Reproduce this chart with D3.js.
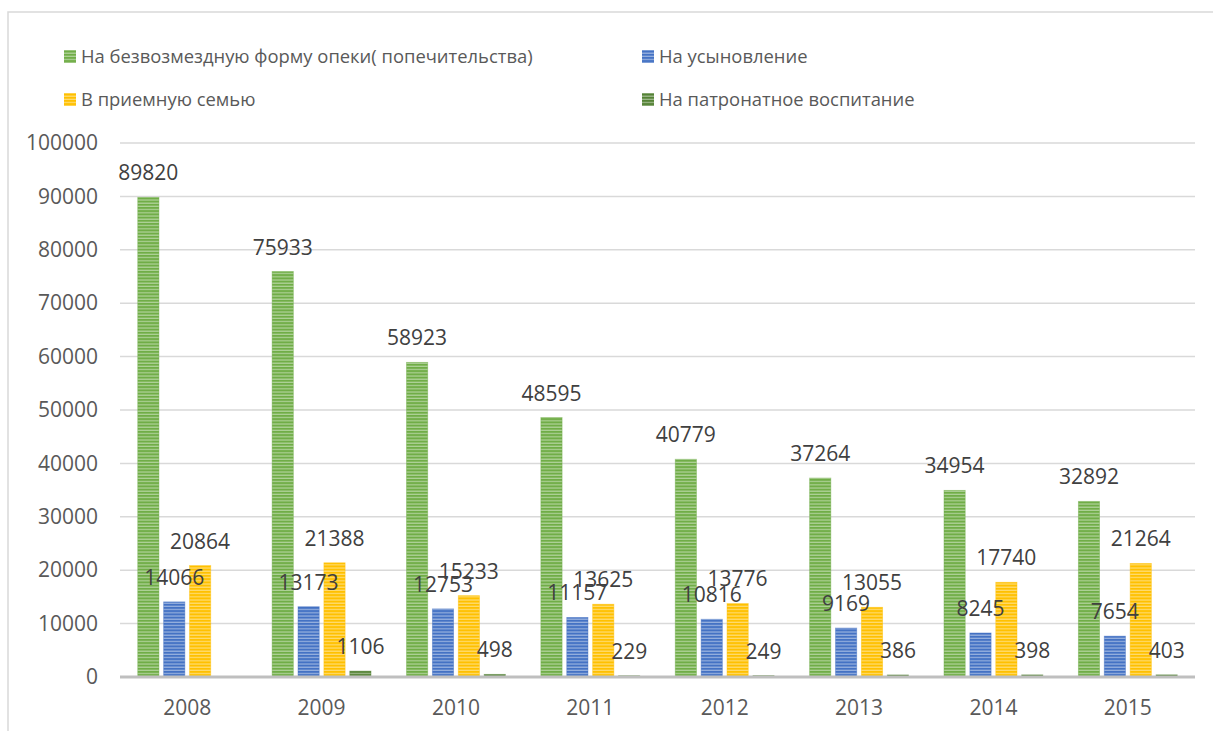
<!DOCTYPE html>
<html>
<head>
<meta charset="utf-8">
<script src="https://cdn.jsdelivr.net/npm/d3@7"></script>
<style>
  body { margin: 0; background: #fff; }
  text { font-family: "Open Sans", sans-serif; fill: #595959; }
</style>
</head>
<body>
<div id="canvas"></div>
<script>
// Данные
const years = ["2008", "2009", "2010", "2011", "2012", "2013", "2014", "2015"];
const seriesNames = [
  "На безвозмездную форму опеки( попечительства)",
  "На усыновление",
  "В приемную семью",
  "На патронатное воспитание"
];
const opeka = [89820, 75933, 58923, 48595, 40779, 37264, 34954, 32892];
const usynovlenie = [14066, 13173, 12753, 11157, 10816, 9169, 8245, 7654];
const priemnaya = [20864, 21388, 15233, 13625, 13776, 13055, 17740, 21264];
const patronat = [null, 1106, 498, 229, 249, 386, 398, 403];
const yTicks = [0, 10000, 20000, 30000, 40000, 50000, 60000, 70000, 80000, 90000, 100000];

const colors = ["#70ad47", "#4472c4", "#ffc000", "#548235"];
const allSeries = [opeka, usynovlenie, priemnaya, patronat];

const width = 1213, height = 731;
const margin = { top: 143, left: 120, right: 18, bottom: 54 };
const iwidth = width - margin.left - margin.right;
const iheight = height - margin.top - margin.bottom;

const svg = d3.select("#canvas").append("svg")
  .attr("width", width)
  .attr("height", height);

// полосатая заливка как в Excel
const defs = svg.append("defs");
colors.forEach((c, i) => {
  const p = defs.append("pattern")
    .attr("id", "stripe" + i)
    .attr("patternUnits", "userSpaceOnUse")
    .attr("width", 4)
    .attr("height", 3.2);
  p.append("rect").attr("width", 4).attr("height", 3.2).attr("fill", c);
  p.append("rect").attr("y", 2).attr("width", 4).attr("height", 1.2)
    .attr("fill", "#fff").attr("opacity", 0.45);
});

// рамка диаграммы
svg.append("rect")
  .attr("x", 8).attr("y", 12)
  .attr("width", 1240).attr("height", 760)
  .attr("fill", "none")
  .attr("stroke", "#d9d9d9")
  .attr("stroke-width", 1.5);

const g = svg.append("g")
  .attr("transform", `translate(${margin.left},${margin.top})`);

const y = d3.scaleLinear().domain([0, 100000]).range([iheight, 0]);
const x0 = d3.scaleBand().domain(years).range([0, iwidth]).paddingInner(0.264).paddingOuter(0.132);
const x1 = d3.scaleBand().domain(d3.range(4)).range([0, x0.bandwidth()]).paddingInner(0.18);

// сетка
g.append("g")
  .selectAll("line")
  .data(yTicks.slice(1))
  .enter()
  .append("line")
  .attr("x1", 0).attr("x2", iwidth)
  .attr("y1", d => y(d)).attr("y2", d => y(d))
  .attr("stroke", "#d9d9d9")
  .attr("stroke-width", 1.5);

// ось Y
const yAxis = g.append("g")
  .call(d3.axisLeft(y).tickValues(yTicks).tickSize(0).tickPadding(22).tickFormat(d3.format("d")));
yAxis.select(".domain").remove();
yAxis.selectAll("text").style("font-size", "21px").attr("fill", "#595959");

// бары
const barLayer = g.append("g");
const labelLayer = g.append("g");
years.forEach((yr, i) => {
  allSeries.forEach((s, k) => {
    const v = s[i];
    if (v === null) return;
    const bx = x0(yr) + x1(k);
    barLayer.append("rect")
      .attr("x", bx)
      .attr("y", y(v))
      .attr("width", x1.bandwidth())
      .attr("height", iheight - y(v))
      .attr("fill", `url(#stripe${k})`)
      .attr("stroke", colors[k])
      .attr("stroke-opacity", 0.5)
      .attr("stroke-width", 0.8);
    labelLayer.append("text")
      .attr("x", bx + x1.bandwidth() / 2)
      .attr("y", y(v) - 17)
      .attr("text-anchor", "middle")
      .style("font-size", "21px")
      .style("fill", "#404040")
      .text(v);
  });
});

// ось X
g.insert("line", () => labelLayer.node())
  .attr("x1", 0).attr("x2", iwidth)
  .attr("y1", iheight).attr("y2", iheight)
  .attr("stroke", "#bfbfbf")
  .attr("stroke-width", 3);

const xAxis = g.append("g")
  .attr("transform", `translate(0,${iheight})`)
  .call(d3.axisBottom(x0).tickSize(0).tickPadding(23));
xAxis.select(".domain").remove();
xAxis.selectAll("text").style("font-size", "21px").attr("fill", "#595959");

// легенда
const legendPos = [[64, 57], [642, 57], [64, 100], [642, 100]];
seriesNames.forEach((name, k) => {
  const lg = svg.append("g").attr("transform", `translate(${legendPos[k][0]},${legendPos[k][1]})`);
  lg.append("rect")
    .attr("x", 0).attr("y", -7)
    .attr("width", 12).attr("height", 13)
    .attr("fill", `url(#stripe${k})`);
  lg.append("text")
    .attr("x", 17).attr("y", 0)
    .attr("dy", "0.35em")
    .style("font-size", "18.4px")
    .text(name);
});
</script>
</body>
</html>
